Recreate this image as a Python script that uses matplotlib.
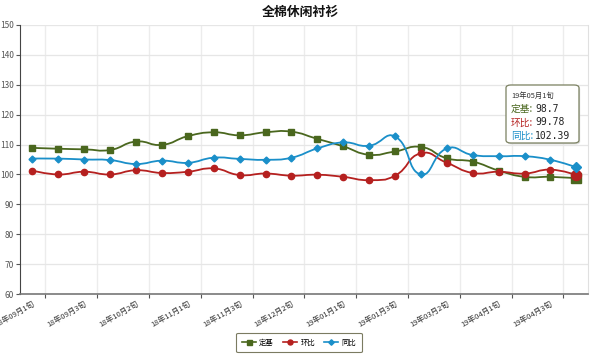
import numpy as np
import matplotlib
matplotlib.use("Agg")
import matplotlib.pyplot as plt
from matplotlib.path import Path
from matplotlib.patches import PathPatch, FancyBboxPatch
from matplotlib.lines import Line2D

plt.rcParams['font.family'] = ['Noto Sans CJK SC', 'DejaVu Sans']

# categories (ten-day periods)
periods = ['18年09月1旬', '18年09月2旬', '18年09月3旬', '18年10月1旬', '18年10月2旬', '18年10月3旬',
           '18年11月1旬', '18年11月2旬', '18年11月3旬', '18年12月1旬', '18年12月2旬', '18年12月3旬',
           '19年01月1旬', '19年01月2旬', '19年01月3旬', '19年03月1旬', '19年03月2旬', '19年03月3旬',
           '19年04月1旬', '19年04月2旬', '19年04月3旬', '19年05月1旬']

dingji = [108.9, 108.6, 108.4, 108.2, 111.0, 109.9, 112.8, 114.1, 113.1, 114.1, 114.3,
          111.9, 109.4, 106.6, 107.7, 109.2, 105.4, 104.3, 101.3, 99.2, 99.2, 98.7]
huanbi = [101.3, 100.0, 100.9, 100.0, 101.4, 100.5, 100.9, 102.0, 99.8, 100.3, 99.6,
          99.9, 99.2, 98.1, 99.6, 107.1, 103.9, 100.5, 100.9, 100.3, 101.6, 99.78]
tongbi = [105.3, 105.3, 105.0, 104.8, 103.5, 104.6, 103.9, 105.6, 105.2, 104.9, 105.6,
          108.7, 110.7, 109.6, 112.7, 100.0, 108.7, 106.5, 106.1, 106.1, 104.9, 102.39]

series = [('定基', dingji, '#4a671e', 's', 4.5),
          ('环比', huanbi, '#b5201f', 'o', 4.5),
          ('同比', tongbi, '#1a8fc9', 'D', 3.5)]


def smooth_path(xs, ys, sx=26.5, sy=2.99, smooth=0.5):
    # bezier curve through the points, echarts-like smoothing
    px = np.asarray(xs, float) * sx
    py = np.asarray(ys, float) * sy
    n = len(px)
    verts = [(xs[0], ys[0])]
    codes = [Path.MOVETO]
    cps = []
    for i in range(n):
        if i == 0 or i == n - 1:
            cps.append(((px[i], py[i]), (px[i], py[i])))
            continue
        vx = (px[i + 1] - px[i - 1]) * smooth
        vy = (py[i + 1] - py[i - 1]) * smooth
        d0 = np.hypot(px[i] - px[i - 1], py[i] - py[i - 1])
        d1 = np.hypot(px[i + 1] - px[i], py[i + 1] - py[i])
        t0 = d0 / (d0 + d1)
        t1 = d1 / (d0 + d1)
        cps.append(((px[i] - vx * t0, py[i] - vy * t0), (px[i] + vx * t1, py[i] + vy * t1)))
    for i in range(n - 1):
        c1 = cps[i][1]
        c2 = cps[i + 1][0]
        verts += [(c1[0] / sx, c1[1] / sy), (c2[0] / sx, c2[1] / sy), (xs[i + 1], ys[i + 1])]
        codes += [Path.CURVE4] * 3
    return Path(verts, codes)


fig = plt.figure(figsize=(6, 3.59), dpi=100)
ax = fig.add_axes([19.5 / 600, 1 - 294 / 359, (588 - 19.5) / 600, (294 - 25) / 359])

x = np.arange(len(periods))
for name, vals, col, mk, ms in series:
    ax.add_patch(PathPatch(smooth_path(x, vals), fc='none', ec=col, lw=1.3, zorder=3, clip_on=False))
    ax.plot(x[:-1], vals[:-1], ls='none', marker=mk, ms=ms, color=col, mec=col, zorder=4)
    ax.plot(x[-1:], vals[-1:], ls='none', marker=mk, ms=ms * 1.6, color=col, mec=col, zorder=4, clip_on=False)

ax.set_xlim(-0.5, 21.45)
ax.set_ylim(60, 150)
ax.set_yticks(np.arange(60, 151, 10))
ax.set_xticks(x[::2])
ax.set_xticklabels(periods[::2], rotation=30, ha='right', rotation_mode='anchor', fontsize=5.5, color='#333333')
ax.set_xticks(np.arange(0.5, 21, 2), minor=True)
ax.tick_params(axis='x', which='major', length=0, pad=4)
ax.tick_params(axis='x', which='minor', length=3, color='#555555', width=0.8)
ax.tick_params(axis='y', length=3, color='#555555', width=0.8, labelsize=6, labelcolor='#555555', pad=1)
ax.grid(axis='y', color='#e6e6e6', lw=0.9)
for gx in np.arange(0.5, 21, 2):
    ax.axvline(gx, color='#ececec', lw=1.0, zorder=0)
ax.set_axisbelow(True)
ax.spines['top'].set_visible(False)
ax.spines['right'].set_color('#e0e0e0')
ax.spines['left'].set_color('#444444')
ax.spines['bottom'].set_color('#777777')
ax.spines['bottom'].set_linewidth(1.2)

fig.text(0.5, 1 - 12 / 359, '全棉休闲衬衫', ha='center', va='center', fontsize=9.3, fontweight='bold', color='#111111')

# legend
handles = [Line2D([], [], color=c, marker=m, ms=ms * 0.8, lw=1.2) for _, _, c, m, ms in series]
leg = fig.legend(handles, [s[0] for s in series], loc='center', bbox_to_anchor=(299 / 600, 1 - 342.5 / 359),
                 ncol=3, fontsize=5.3, frameon=True, handlelength=1.9, handletextpad=0.45, columnspacing=1.25,
                 borderpad=0.75, fancybox=True)
leg.get_frame().set_edgecolor('#5a5a3a')
leg.get_frame().set_linewidth(0.8)

# tooltip
tx0, ty0, tw, th = 506 / 600, 1 - 143 / 359, 73 / 600, 58 / 359
fig.patches.append(FancyBboxPatch((tx0 + 0.002, ty0 - 0.004), tw, th, boxstyle='round,pad=0,rounding_size=0.008',
                                  transform=fig.transFigure, fc='#dcdcdc', ec='none', zorder=5))
fig.patches.append(FancyBboxPatch((tx0, ty0), tw, th, boxstyle='round,pad=0,rounding_size=0.008',
                                  transform=fig.transFigure, fc='white', ec='#7a8060', lw=0.9, zorder=6))
fig.text(511 / 600, 1 - 96 / 359, periods[-1], fontsize=5.3, color='#333333', va='center', zorder=7)
for i, (name, vals, col, _, _) in enumerate(series):
    yy = 1 - (109 + i * 13.5) / 359
    fig.text(511 / 600, yy, name + ':', fontsize=7, color=col, va='center', zorder=7)
    fig.text(535 / 600, yy, str(vals[-1]), fontsize=7, color='#222222', va='center', zorder=7,
             family=['DejaVu Sans Mono', 'DejaVu Sans'])

fig.savefig('out.png', dpi=100)
